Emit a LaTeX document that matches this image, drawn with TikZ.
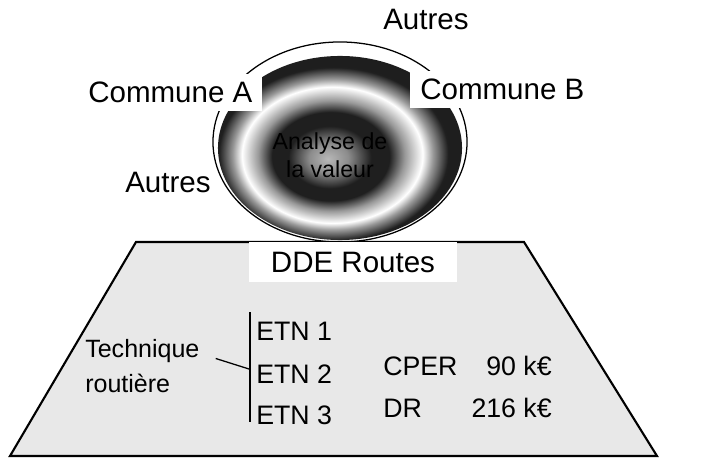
\documentclass[tikz,border=0pt]{standalone}
\usepackage{fontspec}
\setmainfont{Liberation Sans}
\pgfdeclareradialshading{donut}{\pgfpoint{-2.5bp}{-3bp}}{%
  color(0bp)=(black!28); color(4bp)=(black!45); color(8.5bp)=(black!88);
  color(12bp)=(black!88); color(15bp)=(black!40); color(18.5bp)=(white);
  color(20.5bp)=(black!40); color(23.5bp)=(black!88); color(50bp)=(black!92)}
\tikzset{
  txt/.style={inner sep=0pt},
  big/.style={txt,font=\fontsize{21}{25}\selectfont},
  mid/.style={txt,font=\fontsize{19}{23}\selectfont},
  small/.style={txt,font=\fontsize{17.8}{21}\selectfont},
  tiny/.style={txt,font=\fontsize{16.5}{19}\selectfont},
  whitebox/.style={fill=white,inner xsep=0.25cm,inner ysep=0.2cm}
}
\begin{document}
\begin{tikzpicture}[x=0.025cm,y=-0.025cm]
	\useasboundingbox (0,0) rectangle (704,459);
	% ring of actors
	\shade [shading=donut] (340,148) ellipse [x radius=3.05cm, y radius=2.3cm];
	\draw [line width=0.9pt] (340,142) ellipse [x radius=3.175cm, y radius=2.5cm];
	% base
	\draw [line width=1.5pt,fill=black!9] (136,242) -- (524,242) -- (657,456) -- (10,456) -- cycle;
	\node [big,fill=white,minimum width=5.175cm,minimum height=0.975cm] (dde) at (353,262) {DDE Routes};
	% labels round the ring
	\node [big,anchor=base west] (autresN) at (383,30) {Autres};
	\node [big,whitebox,anchor=base west] (comA) at (78,103) {Commune A};
	\node [big,whitebox,anchor=base west] (comB) at (410,100) {Commune B};
	\node [big,anchor=base west] (autresW) at (125,193) {Autres};
	\node [tiny,anchor=base] (av1) at (330,150) {Analyse de};
	\node [tiny,anchor=base] (av2) at (330,178) {la valeur};
	% content of the base
	\node [small,anchor=base west] (tech) at (85,357) {Technique};
	\node [small,anchor=base west] (rout) at (85,392) {routière};
	\coordinate (bartop) at (250,312);
	\coordinate (barbot) at (250,422);
	\coordinate (barhit) at (249,369);
	\draw [line width=1pt] (bartop) -- (barbot);
	\draw [line width=0.9pt] ([shift={(0.4cm,0.1cm)}]tech.south east) -- (barhit);
	\node [mid,anchor=base west] (etn1) at (256,340) {ETN 1};
	\node [mid,anchor=base west] (etn2) at (256,383) {ETN 2};
	\node [mid,anchor=base west] (etn3) at (256,424) {ETN 3};
	\node [mid,anchor=base west] (cper) at (383,375) {CPER};
	\node [mid,anchor=base east] (cperv) at (552,375) {90 k€};
	\node [mid,anchor=base west] (dr) at (383,417) {DR};
	\node [mid,anchor=base east] (drv) at (552,417) {216 k€};
\end{tikzpicture}
\end{document}
